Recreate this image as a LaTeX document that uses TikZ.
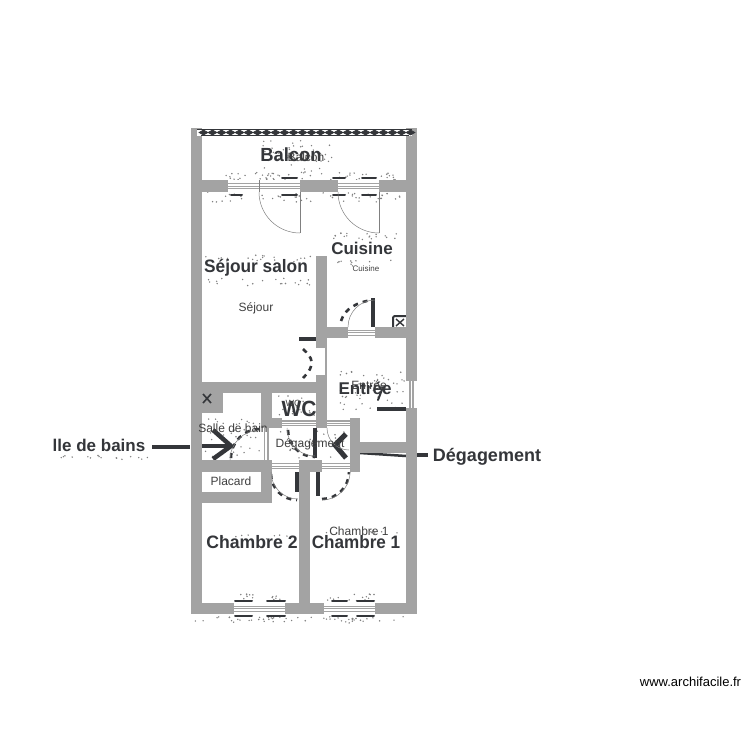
\documentclass[tikz,border=0pt]{standalone}
\usepackage{fontspec}
\setmainfont{Liberation Sans}
\definecolor{wallc}{HTML}{A3A3A3}
\definecolor{scanc}{HTML}{34363A}
\definecolor{labc}{HTML}{404040}
\newcommand{\wallrect}[4]{\fill[wallc] (#1,#2) rectangle (#3,#4);}
\newcommand{\winh}[4]{\fill[white] (#1,#2) rectangle (#3,#4);
  \foreach \f in {0.3,0.52,0.74}{\draw[wallc,line width=1.1pt] ({#1},{#2+\f*(#4-#2)}) -- ({#3},{#2+\f*(#4-#2)});}}
\newcommand{\winv}[4]{\fill[white] (#1,#2) rectangle (#3,#4);
  \foreach \f in {0.35,0.65}{\draw[wallc,line width=1.4pt] ({#1+\f*(#3-#1)},{#2}) -- ({#1+\f*(#3-#1)},{#4});}}
\newcommand{\scantext}[6]{\node[scant,font=\bfseries\fontsize{#5}{#5}\selectfont,xscale=#6] (#1) at (#2,#3) {#4};}
\tikzset{
  scant/.style={text=scanc,inner sep=0pt,anchor=center},
  lab/.style={text=labc,inner sep=0pt,anchor=center,font=\fontsize{12}{14}\selectfont},
  thin door/.style={draw=black!50,line width=.5pt},
  dots/.style={draw=scanc,line width=2.6pt,dash pattern=on 5pt off 5pt},
  markline/.style={draw=scanc,line width=2pt,line cap=round},
  heavy/.style={draw=scanc,line width=3.4pt},
}
\begin{document}
\begin{tikzpicture}[x=1pt,y=-1pt]
\useasboundingbox (0,0) rectangle (750,750);
\fill[white] (0,0) rectangle (750,750);
% speckle of the scanned plan
\pgfmathsetseed{42}
\foreach \xa/\ya/\w/\h/\n in {262/140/70/40/60,225/172/80/8/20,335/172/60/8/20,225/193/80/6/14,340/193/60/6/14,
  205/255/110/8/20,205/278/105/8/20,330/232/70/8/20,335/258/60/8/10,340/370/65/40/50,278/395/38/22/18,
  205/418/55/40/40,280/430/75/28/20,215/535/80/4/8,320/530/80/4/8,235/594/55/7/14,325/594/50/7/14,
  225/617/60/6/14,325/617/50/6/14,192/616/225/5/25,60/455/90/6/16,205/192/200/10/25}{
  \foreach \i in {1,...,\n}{
    \pgfmathsetmacro{\px}{\xa+rnd*\w}
    \pgfmathsetmacro{\py}{\ya+rnd*\h}
    \fill[black!50] (\px,\py) circle (.8pt);
  }
}
% scanned words
\scantext{sBalcon}{291}{155}{Balcon}{19}{.97}
\scantext{sSejour}{256}{268}{Séjour salon}{18}{.96}
\scantext{sCuisine}{362}{248}{Cuisine}{17}{1}
\scantext{sEntree}{365}{388}{Entrée}{17}{1}
\scantext{sWC}{299}{409}{WC}{22}{.95}
\scantext{sCh2}{252}{542}{Chambre 2}{18}{.98}
\scantext{sCh1}{356}{542}{Chambre 1}{18}{.95}
\scantext{sDeg}{487}{457}{Dégagement}{18}{1}
\scantext{sBains}{99}{445}{lle de bains}{17}{1}
% scanned arrows
\draw[heavy] (152,447) -- (190,447);
\draw[heavy] (202,446) -- (230,446);
\draw[draw=scanc,line width=4.5pt] (213,430) -- (231,446) -- (213,459);
\draw[draw=scanc,line width=2.5pt] (360,453) -- (406,456);
\draw[heavy] (417,455) -- (428,455);
\draw[draw=scanc,line width=5pt] (346,434) -- (335,445) -- (346,458);
% scanned door swings
\draw[dots] (231,458) arc (180:270:29);
\draw[dots] (288,430) arc (180:90:27);
\draw[dots] (271,474) arc (180:90:26);
\draw[dots] (322,499) arc (90:0:27);
\draw[dots] (341,321) .. controls (345,308) and (358,302) .. (372,300);
\draw[dots] (303,349) .. controls (313,358) and (316,365) .. (303,378);
\draw[heavy] (299,339) -- (316,339);
\draw[heavy] (373,298) -- (373,327);
\draw[heavy] (315,428) -- (315,458);
\draw[heavy] (297,472) -- (297,492);
\draw[heavy] (318,472) -- (318,496);
\draw[heavy] (377,409) -- (406,409);
\draw[markline] (378,400) -- (383,387);
% window marks
\foreach \xa/\xb in {282/297,333/345,362/376}{
  \draw[markline] (\xa,178) -- (\xb,178);
}
\foreach \xa/\xb in {231/242,282/297,333/345,362/376}{
  \draw[markline] (\xa,195) -- (\xb,195);
}
\foreach \xa/\xb in {235/252,267/285,332/347,357/374}{
  \draw[markline] (\xa,601) -- (\xb,601);
  \draw[markline] (\xa,616) -- (\xb,616);
}
% cuisine mark
\draw[draw=scanc,line width=2pt,rounded corners=2pt] (393,327) -- (393,316) -- (406,316);
\draw[draw=scanc,line width=1.4pt] (396,319) -- (404,326) (404,319) -- (396,326);
% walls
\wallrect{191}{128}{202}{614}
\wallrect{406}{128}{417}{614}
\wallrect{191}{603}{417}{614}
\wallrect{202}{180}{406}{192}
\wallrect{316}{256}{327}{428}
\wallrect{316}{327}{406}{338}
\wallrect{202}{382}{327}{393}
\wallrect{202}{393}{223}{413}
\wallrect{261}{393}{272}{503}
\wallrect{272}{418}{350}{428}
\wallrect{350}{418}{360}{472}
\wallrect{360}{442}{406}{453}
\wallrect{191}{460}{272}{472}
\wallrect{191}{492}{272}{503}
\wallrect{272}{460}{360}{472}
\wallrect{299}{460}{310}{603}
% balcony railing
\fill[white] (197,129.5) rectangle (412,135.5);
\draw[draw=scanc,line width=.8pt] (197,129.5) -- (412,129.5) (201,135) -- (409,135);
\foreach \k in {0,...,23}{
  \draw[draw=scanc,line width=.6pt,fill=scanc] ({199+9*\k},132.5) -- ({203.5+9*\k},130) -- ({208+9*\k},132.5) -- ({203.5+9*\k},135) -- cycle;
}
% openings
\winh{228}{180}{300}{192}
\winh{338}{180}{379}{192}
\winh{348}{327}{375}{338}
\fill[white] (316,348) rectangle (325,375);
\winv{406}{381}{417}{408}
\winv{260}{428}{272}{460}
\winh{282}{418}{316}{428}
\winh{327}{418}{350}{428}
\winh{272}{460}{299}{472}
\winh{322}{460}{350}{472}
\winh{234}{603}{285}{614}
\winh{324}{603}{375}{614}
% door leaves
\draw[thin door] (259,180) -- (259,192);
\draw[thin door] (300,233) arc (90:180:41);
\draw[thin door] (300,192) -- (300,233);
\draw[thin door] (379,233) arc (90:180:41);
\draw[thin door] (379,192) -- (379,233);
\draw[thin door] (348,327) arc (180:270:27);
\draw[thin door] (230,460) arc (180:270:30);
\draw[thin door] (287,428) arc (180:90:28);
\draw[thin door] (327,428) arc (180:90:22);
\draw[thin door] (271,472) arc (180:90:27);
\draw[thin door] (322,500) arc (90:0:28);
% symbol in the corner box
\draw[draw=scanc,line width=1.6pt] (203,394) -- (211,403) (211,394) -- (203,403);
% labels
\node[lab] (lBalcon) at (306,157) {Balcon};
\node[lab] (lSejour) at (256,308) {Séjour};
\node[lab,font=\fontsize{8}{10}\selectfont] (lCuisine) at (366,269) {Cuisine};
\node[lab] (lEntree) at (369,385) {Entrée};
\node[lab,font=\fontsize{9}{11}\selectfont] (lWC) at (293,403) {WC};
\node[lab] (lBain) at (233,428) {Salle de bain};
\node[lab] (lDeg) at (310,444) {Dégagement};
\node[lab] (lPlacard) at (231,481) {Placard};
\node[lab] (lCh1) at (359,531) {Chambre 1};
\node[text=black,inner sep=0pt,font=\fontsize{13}{15}\selectfont] (lWeb) at (690.5,682) {www.archifacile.fr};
\end{tikzpicture}
\end{document}
